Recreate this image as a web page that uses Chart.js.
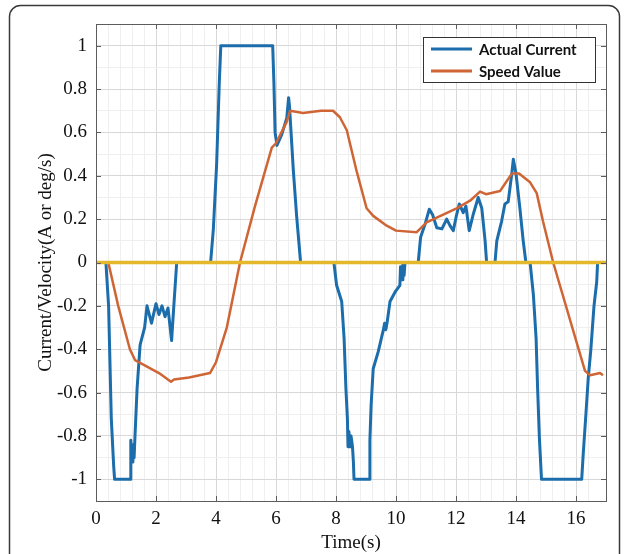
<!DOCTYPE html>
<html>
<head>
<meta charset="utf-8">
<script src="https://cdn.jsdelivr.net/npm/chart.js@4.4.0/dist/chart.umd.min.js"></script>
<style>
    html, body { margin: 0; padding: 0; background: #fff; overflow: hidden; }
    #wrap { position: relative; width: 627px; height: 554px; }
</style>
</head>
<body>
<div id="wrap"><canvas id="chart" width="627" height="554"></canvas></div>
<script>
// ============================================
// Current / velocity over time
// ============================================

// Actual current (A)
const currentTime = [
    0, 0.33, 0.42, 0.51, 0.59, 0.62, 1.14, 1.16, 1.2, 1.23, 1.27, 1.3, 1.37, 1.47, 1.62, 1.7,
    1.85, 2.0, 2.1, 2.2, 2.3, 2.4, 2.52, 2.58, 2.69,
    3.82, 3.91, 4.02, 4.11, 4.16, 5.89, 5.93, 5.97, 6.03, 6.19, 6.36, 6.42, 6.45, 6.58, 6.69, 6.82,
    7.93, 8.02, 8.19, 8.27, 8.33, 8.38, 8.4, 8.43, 8.47, 8.5, 8.55, 8.58, 8.6, 9.11, 9.13, 9.17,
    9.24, 9.41, 9.58, 9.62, 9.66, 9.7, 9.8, 9.97, 10.13, 10.15, 10.2, 10.23, 10.27, 10.3,
    10.74, 10.82, 10.97, 11.11, 11.22, 11.36, 11.53, 11.69, 11.8, 11.91, 12.02, 12.11, 12.24,
    12.33, 12.44, 12.58, 12.74, 12.86, 12.97, 13.02,
    13.3, 13.36, 13.52, 13.63, 13.74, 13.86, 13.91, 14.0, 14.13, 14.24, 14.33,
    14.47, 14.58, 14.67, 14.72, 14.78, 14.85, 16.19, 16.24, 16.33, 16.41, 16.49, 16.6, 16.69, 16.72, 16.9
];
const currentValue = [
    0, 0, -0.2, -0.72, -0.94, -1.0, -1.0, -0.82, -0.92, -0.84, -0.9, -0.8, -0.58, -0.38, -0.3, -0.2,
    -0.28, -0.19, -0.24, -0.2, -0.25, -0.21, -0.36, -0.23, 0,
    0, 0.15, 0.45, 0.83, 1.0, 1.0, 0.83, 0.6, 0.54, 0.59, 0.667, 0.76, 0.72, 0.42, 0.21, 0,
    0, -0.105, -0.18, -0.35, -0.58, -0.72, -0.85, -0.78, -0.85, -0.8, -0.85, -0.92, -1.0, -1.0, -0.82, -0.66,
    -0.49, -0.41, -0.31, -0.28, -0.31, -0.28, -0.18, -0.136, -0.105, -0.02, -0.08, 0, -0.06, 0,
    0, 0.116, 0.177, 0.246, 0.22, 0.16, 0.155, 0.2, 0.17, 0.147, 0.22, 0.27, 0.23,
    0.26, 0.147, 0.225, 0.3, 0.25, 0.1, 0,
    0, 0.1, 0.19, 0.27, 0.28, 0.41, 0.476, 0.41, 0.25, 0.1, 0,
    0, -0.15, -0.35, -0.58, -0.81, -1.0, -1.0, -0.885, -0.7, -0.53, -0.41, -0.2, -0.09, 0, 0
];

// Speed value (deg/s)
const speedTime = [
    0, 0.41, 0.74, 1.13, 1.3, 1.7, 2.1, 2.5, 2.6, 3.1, 3.8, 4.0, 4.36, 4.8, 5.3, 5.86,
    6.0, 6.36, 6.47, 6.9, 7.5, 7.9, 8.13, 8.36, 8.69, 9.02, 9.24, 9.69, 10.0, 10.69, 11.02,
    12.02, 12.47, 12.8, 13.0, 13.47, 13.86, 14.1, 14.47, 14.69, 14.9, 15.24, 16.3, 16.47, 16.8, 16.9
];
const speedValue = [
    0, 0, -0.2, -0.4, -0.45, -0.48, -0.51, -0.55, -0.54, -0.53, -0.51, -0.46, -0.3, 0, 0.26, 0.53,
    0.55, 0.65, 0.7, 0.69, 0.7, 0.7, 0.67, 0.61, 0.42, 0.25, 0.215, 0.17, 0.147, 0.14, 0.185,
    0.25, 0.285, 0.327, 0.315, 0.33, 0.41, 0.41, 0.37, 0.32, 0.19, 0, -0.5, -0.52, -0.51, -0.52
];

// zero reference line
const zeroTime = [0, 17];
const zeroValue = [0, 0];

const seriesLabels = ["Actual Current", "Speed Value"];

const X_MIN = 0, X_MAX = 17;
const Y_MIN = -1.1, Y_MAX = 1.1;

const toPoints = (xs, ys) => xs.map((x, i) => ({ x, y: ys[i] }));

const isMajorX = (v) => Math.abs(v / 2 - Math.round(v / 2)) < 1e-6;
const isMajorY = (v) => Math.abs(v * 5 - Math.round(v * 5)) < 1e-6;

// outer rounded frame round the figure
const framePlugin = {
    id: "frame",
    afterDraw(chart) {
        const ctx = chart.ctx;
        const l = 9.5, t = 5.5, r = 619.5, b = 600, rad = 11;
        ctx.save();
        ctx.strokeStyle = "#3a3a3a";
        ctx.lineWidth = 1.5;
        ctx.beginPath();
        ctx.moveTo(l, b);
        ctx.lineTo(l, t + rad);
        ctx.arcTo(l, t, l + rad, t, rad);
        ctx.lineTo(r - rad, t);
        ctx.arcTo(r, t, r, t + rad, rad);
        ctx.lineTo(r, b);
        ctx.stroke();
        ctx.restore();
    }
};

// matlab style box with inward ticks on all four sides
const boxPlugin = {
    id: "axesBox",
    afterDatasetsDraw(chart) {
        const { ctx, chartArea: a, scales } = chart;
        const len = 5;
        ctx.save();
        ctx.strokeStyle = "#5c5c5c";
        ctx.lineWidth = 1;

        scales.x.ticks.forEach((t) => {
            if (!isMajorX(t.value)) return;
            const px = Math.round(scales.x.getPixelForValue(t.value)) + 0.5;
            ctx.beginPath();
            ctx.moveTo(px, a.bottom); ctx.lineTo(px, a.bottom - len);
            ctx.moveTo(px, a.top); ctx.lineTo(px, a.top + len);
            ctx.stroke();
        });
        scales.y.ticks.forEach((t) => {
            if (!isMajorY(t.value)) return;
            const py = Math.round(scales.y.getPixelForValue(t.value)) + 0.5;
            ctx.beginPath();
            ctx.moveTo(a.left, py); ctx.lineTo(a.left + len, py);
            ctx.moveTo(a.right, py); ctx.lineTo(a.right - len, py);
            ctx.stroke();
        });

        ctx.strokeRect(Math.round(a.left) + 0.5, Math.round(a.top) + 0.5,
            Math.round(a.right - a.left), Math.round(a.bottom - a.top));
        ctx.restore();
    }
};

// legend box in the upper right corner of the plot
const legendPlugin = {
    id: "legendBox",
    afterDraw(chart) {
        const ctx = chart.ctx;
        const x = 423, y = 37, w = 172, h = 45;
        ctx.save();
        ctx.fillStyle = "#fff";
        ctx.fillRect(x, y, w, h);
        ctx.strokeStyle = "#333";
        ctx.lineWidth = 1;
        ctx.strokeRect(x + 0.5, y + 0.5, w, h);

        ctx.font = "bold 15px Lato, 'Open Sans', sans-serif";
        ctx.textBaseline = "middle";
        chart.data.datasets.slice(0, 2).forEach((ds, i) => {
            const ly = y + 12 + i * 22;
            ctx.strokeStyle = ds.borderColor;
            ctx.lineWidth = 3;
            ctx.beginPath();
            ctx.moveTo(x + 8, ly);
            ctx.lineTo(x + 49, ly);
            ctx.stroke();
            ctx.fillStyle = "#111";
            ctx.fillText(ds.label, x + 56, ly + 1);
        });
        ctx.restore();
    }
};

const serif = "'Liberation Serif', 'Times New Roman', serif";

new Chart(document.getElementById("chart"), {
    type: "line",
    data: {
        datasets: [
            {
                label: seriesLabels[0],
                data: toPoints(currentTime, currentValue),
                borderColor: "#1c6dab",
                borderWidth: 3,
                order: 2
            },
            {
                label: seriesLabels[1],
                data: toPoints(speedTime, speedValue),
                borderColor: "#cf6535",
                borderWidth: 2.5,
                order: 1
            },
            {
                label: "zero",
                data: toPoints(zeroTime, zeroValue),
                borderColor: "#e4b82a",
                borderWidth: 3.5,
                order: 0
            }
        ]
    },
    options: {
        responsive: false,
        animation: false,
        devicePixelRatio: 1,
        elements: {
            point: { radius: 0 },
            line: { tension: 0, borderJoinStyle: "round" }
        },
        layout: { padding: { top: 24, right: 21, left: 0, bottom: 0 } },
        plugins: {
            legend: { display: false },
            tooltip: { enabled: false }
        },
        scales: {
            x: {
                type: "linear",
                min: X_MIN,
                max: X_MAX,
                afterFit: (s) => { s.height = 53; },
                border: { display: false },
                grid: {
                    drawTicks: false,
                    color: (c) => isMajorX(c.tick.value) ? "#d8d8d8" : "#efefef"
                },
                ticks: {
                    stepSize: 0.4,
                    autoSkip: false,
                    maxRotation: 0,
                    padding: 7,
                    color: "#111",
                    font: { family: serif, size: 19 },
                    callback: (v) => isMajorX(v) ? String(Math.round(v)) : ""
                },
                title: {
                    display: true,
                    text: "Time(s)",
                    color: "#111",
                    font: { family: serif, size: 19 },
                    padding: { top: 0, bottom: 0 }
                }
            },
            y: {
                type: "linear",
                min: Y_MIN,
                max: Y_MAX,
                afterFit: (s) => { s.width = 96; },
                border: { display: false },
                grid: {
                    drawTicks: false,
                    color: (c) => isMajorY(c.tick.value) ? "#d8d8d8" : "#efefef"
                },
                ticks: {
                    stepSize: 0.1,
                    autoSkip: false,
                    padding: 9,
                    color: "#111",
                    font: { family: serif, size: 19 },
                    callback: (v) => isMajorY(v) ? String(Math.round(v * 10) / 10) : ""
                },
                title: {
                    display: true,
                    text: "Current/Velocity(A or deg/s)",
                    color: "#111",
                    font: { family: serif, size: 19 },
                    padding: { top: 35, bottom: 0 }
                }
            }
        }
    },
    plugins: [boxPlugin, legendPlugin, framePlugin]
});
</script>
</body>
</html>
